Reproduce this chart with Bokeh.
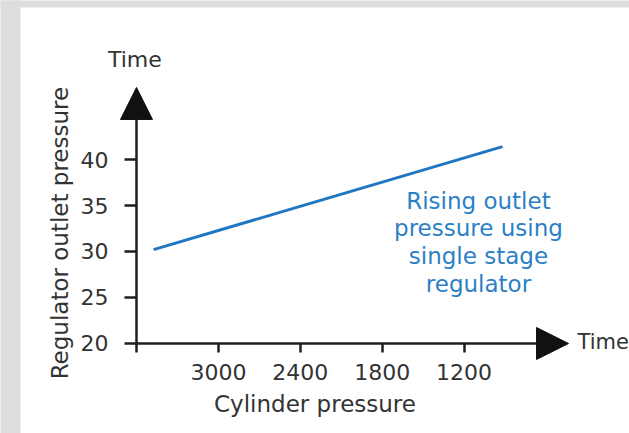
import math
from bokeh.plotting import figure
from bokeh.models import (Range1d, FixedTicker, Arrow, NormalHead, Label, BoxAnnotation)
from bokeh.embed import file_html
from bokeh.resources import INLINE

# ---- data ----
cyl_pressure = [3475, 919]          # cylinder pressure (falls over time)
outlet_pressure = [30.2, 41.4]      # regulator outlet pressure
x_ticks = [3600, 3000, 2400, 1800, 1200]
x_tick_labels = ["", "3000", "2400", "1800", "1200"]
y_ticks = [20, 25, 30, 35, 40]
x_title = "Cylinder pressure"
y_title = "Regulator outlet pressure"
annotation_text = "Rising outlet\npressure using\nsingle stage\nregulator"

FONT = "DejaVu Sans"
TXT = "#333333"
AX = "#1e1e1e"
BLUE = "#1f77c2"

p = figure(width=629, height=433, output_backend="svg", toolbar_location=None,
           x_range=Range1d(4596.3, -11.7), y_range=Range1d(10.217, 57.283),
           min_border_left=0, min_border_right=0, min_border_top=0, min_border_bottom=0)
p.outline_line_color = None
p.background_fill_color = "white"
p.border_fill_color = "white"
p.xgrid.visible = False
p.ygrid.visible = False

# page background strips
p.add_layout(BoxAnnotation(left=4600, right=4450, bottom=10, top=58,
                           fill_color="#dcdede", fill_alpha=1, line_color=None, level="underlay"))
p.add_layout(BoxAnnotation(left=4600, right=-20, bottom=56.52, top=58,
                           fill_color="#dcdede", fill_alpha=1, line_color=None, level="underlay"))

# x axis
xa = p.xaxis[0]
xa.fixed_location = 20
xa.ticker = FixedTicker(ticks=x_ticks)
xa.major_label_overrides = {t: l for t, l in zip(x_ticks, x_tick_labels)}
xa.axis_line_color = None
xa.major_tick_line_color = AX
xa.major_tick_line_width = 2.5
xa.major_tick_out = 9
xa.major_tick_in = 0
xa.minor_tick_line_color = None
xa.major_label_text_font = FONT
xa.major_label_text_font_size = "22px"
xa.major_label_text_color = TXT
xa.major_label_standoff = 12
xa.axis_label = x_title
xa.axis_label_text_font = FONT
xa.axis_label_text_font_size = "23px"
xa.axis_label_text_font_style = "normal"
xa.axis_label_text_color = TXT
xa.axis_label_standoff = 7

# y axis
ya = p.yaxis[0]
ya.fixed_location = 3600
ya.ticker = FixedTicker(ticks=y_ticks)
ya.axis_line_color = None
ya.major_tick_line_color = AX
ya.major_tick_line_width = 2.5
ya.major_tick_out = 12
ya.major_tick_in = 0
ya.minor_tick_line_color = None
ya.major_label_text_font = FONT
ya.major_label_text_font_size = "22px"
ya.major_label_text_color = TXT
ya.major_label_standoff = 16

# y axis title (placed to match the reference)
p.add_layout(Label(x=4164, y=32.0, text=y_title, angle=math.pi / 2,
                   text_font=FONT, text_font_size="23px", text_color=TXT,
                   text_align="center", text_baseline="middle"))

# axis arrows
p.add_layout(Arrow(end=NormalHead(size=32, fill_color="#111111", line_color="#111111"),
                   x_start=3600, y_start=20, x_end=3600, y_end=47.83,
                   line_color=AX, line_width=2.5))
p.add_layout(Arrow(end=NormalHead(size=32, fill_color="#111111", line_color="#111111"),
                   x_start=3600, y_start=20, x_end=435, y_end=20,
                   line_color=AX, line_width=2.5))

# data line
p.line(cyl_pressure, outlet_pressure, line_color=BLUE, line_width=3)

# labels
p.add_layout(Label(x=3612, y=50.9, text="Time", text_font=FONT, text_font_size="22px",
                   text_color=TXT, text_align="center", text_baseline="middle"))
p.add_layout(Label(x=369, y=20.2, text="Time", text_font=FONT, text_font_size="21px",
                   text_color=TXT, text_align="left", text_baseline="middle"))
p.add_layout(Label(x=1095, y=31.0, text=annotation_text, text_font=FONT, text_font_size="23px",
                   text_color="#2b80c5", text_align="center", text_baseline="middle",
                   text_line_height=1.07))

open("out.html", "w").write(file_html(p, INLINE))
